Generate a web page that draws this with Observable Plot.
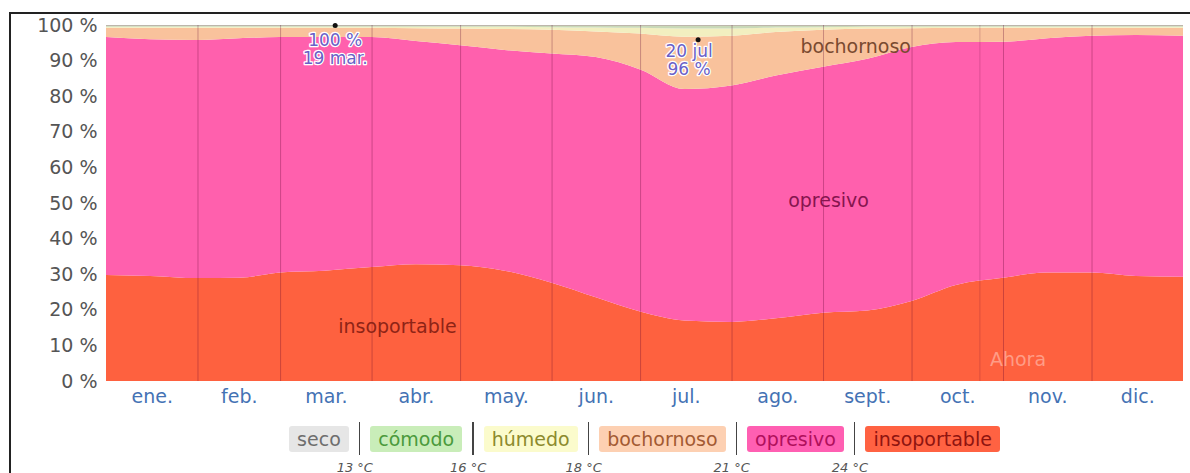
<!DOCTYPE html>
<html><head><meta charset="utf-8">
<script src="https://cdn.jsdelivr.net/npm/d3@7"></script>
<script src="https://cdn.jsdelivr.net/npm/@observablehq/plot@0.6"></script>
<style>
body{margin:0;width:1190px;height:473px;overflow:hidden;background:#fff;font-family:"DejaVu Sans",sans-serif;position:relative}
#frame{position:absolute;left:9px;top:12px;width:1200px;height:480px;border-left:2px solid #222;border-top:2px solid #222;pointer-events:none}
#chart{position:absolute;left:0;top:0}
#legend{position:absolute;left:106px;width:1077px;top:422px;display:flex;justify-content:center;align-items:center;font-size:19px}
.item{padding:1px 8px;border-radius:3px;line-height:24px}
.sep{position:relative;width:1.5px;height:33px;background:#444;margin:0 10px}
.sep span{position:absolute;top:38px;left:-24px;width:40px;text-align:center;font-size:13px;font-style:italic;color:#555;white-space:nowrap}
</style></head>
<body>
<div id="chart"></div>
<div id="frame"></div>
<div id="legend"></div>
<script>
// day-of-year sample points
const days = [0,15,31,45,59,74,90,105,120,135,151,166,181,196,212,227,243,258,273,288,304,319,334,349,365];
// percentage of time in each band (bottom to top)
const insoportable = [29.8,29.5,28.9,29.0,30.5,31.0,32.0,32.8,32.5,31.0,27.6,23.5,19.5,17.0,16.6,17.6,19.2,19.8,22.5,27.0,29.0,30.5,30.5,29.5,29.3];
const opresivo     = [66.8,66.5,66.9,67.3,66.1,65.6,64.6,62.7,61.8,62.0,64.4,67.5,68.0,65.0,66.4,68.2,69.1,70.7,71.3,68.2,66.3,65.8,66.5,67.7,67.7];
const bochornoso   = [2.6,3.2,3.4,2.9,2.6,2.6,2.6,3.6,4.7,5.9,6.7,7.2,10.1,14.7,14.0,12.2,10.4,8.5,5.3,4.0,3.9,2.9,2.2,2.0,2.2];
const humedo       = [0.3,0.3,0.3,0.3,0.3,0.3,0.3,0.4,0.5,0.6,0.7,1.1,1.6,2.3,2.0,1.3,0.7,0.5,0.4,0.3,0.3,0.3,0.3,0.3,0.3];
const comodo       = [0.2,0.2,0.2,0.2,0.2,0.2,0.2,0.2,0.2,0.2,0.3,0.4,0.5,0.7,0.7,0.4,0.3,0.2,0.2,0.2,0.2,0.2,0.2,0.2,0.2];
const seco         = [0.3,0.3,0.3,0.3,0.3,0.3,0.3,0.3,0.3,0.3,0.3,0.3,0.3,0.3,0.3,0.3,0.3,0.3,0.3,0.3,0.3,0.3,0.3,0.3,0.3];

const bandNames  = ["insoportable","opresivo","bochornoso","húmedo","cómodo","seco"];
const bandValues = [insoportable, opresivo, bochornoso, humedo, comodo, seco];
const bandColors = ["#fe613f","#ff60ad","#f9c29c","#f2efc0","#c9d9b8","#bdb6ab"];

const months = ["ene.","feb.","mar.","abr.","may.","jun.","jul.","ago.","sept.","oct.","nov.","dic."];
const monthStarts = [0,31,59,90,120,151,181,212,243,273,304,334,365];
const yTicks = [0,10,20,30,40,50,60,70,80,90,100];

const areaLabels = [
  {day: 98.6, pct: 15.2, label: "insoportable", color: "#8e2416"},
  {day: 244.7, pct: 50.8, label: "opresivo", color: "#86154f"},
  {day: 253.9, pct: 94.1, label: "bochornoso", color: "#7a4a30"}
];
const peakMar = {day: 77.5, pct: 100, l1: "100 %", l2: "19 mar."};
const peakJul = {day: 200.5, pct: 96, l1: "20 jul", l2: "96 %"};
const nowDay = 296;

const legendNames = ["seco","cómodo","húmedo","bochornoso","opresivo","insoportable"];
const legendBg    = ["#e6e6e6","#c9edb9","#fbfbcc","#fdd0b2","#ff5fb2","#ff6242"];
const legendFg    = ["#6e6e6e","#4b9a3c","#8c8a2c","#a35a32","#b0105c","#8e1410"];
const legendTemps = ["13 °C","16 °C","18 °C","21 °C","24 °C"];

const rows = [];
bandNames.forEach((b, k) => days.forEach((d, i) => rows.push({day: d, band: b, value: bandValues[k][i]})));
const monthMid = months.map((m, i) => (monthStarts[i] + monthStarts[i + 1]) / 2);

const annot = (p, dx, dy1, dy2) => [
  Plot.text([p], {x: "day", y: "pct", text: "l1", dx, dy: dy1, fill: "#6a5fc8", stroke: "white", strokeWidth: 2.5, fontSize: 17}),
  Plot.text([p], {x: "day", y: "pct", text: "l2", dx, dy: dy2, fill: "#6a5fc8", stroke: "white", strokeWidth: 2.5, fontSize: 17})
];

const plot = Plot.plot({
  width: 1190, height: 415,
  marginLeft: 106, marginRight: 7, marginTop: 25, marginBottom: 34,
  style: {fontFamily: "DejaVu Sans", fontSize: "19px", background: "transparent"},
  x: {domain: [0, 365], axis: null, label: null},
  y: {domain: [0, 100], axis: null, label: null},
  color: {domain: bandNames, range: bandColors},
  marks: [
    Plot.areaY(rows, {x: "day", y: "value", fill: "band", curve: "monotone-x"}),
    Plot.ruleX(monthStarts.slice(1, -1), {y1: 0, y2: 100, stroke: "#5a0030", strokeOpacity: 0.3, strokeWidth: 1}),
    Plot.ruleX([nowDay], {y1: 0, y2: 100, stroke: "#5a0030", strokeOpacity: 0.2, strokeWidth: 1}),
    Plot.text([nowDay], {x: d => d, y: () => 6, text: () => "Ahora", textAnchor: "start", dx: 10, fill: "#ff9c86", fontSize: 19}),
    Plot.axisY(yTicks, {tickSize: 0, tickPadding: 9, tickFormat: d => d + " %", color: "#555", fontSize: 19, label: null}),
    Plot.axisX(monthMid, {tickSize: 0, tickPadding: 8, tickFormat: d => months[monthMid.indexOf(d)], color: "#4472b4", fontSize: 19, label: null}),
    Plot.text(areaLabels, {x: "day", y: "pct", text: "label", fill: "color", fontSize: 19}),
    Plot.dot([peakMar, peakJul], {x: "day", y: "pct", r: 2.5, fill: "#111"}),
    ...annot(peakMar, 0, 15, 33),
    ...annot(peakJul, -9, 12, 30)
  ]
});
document.getElementById("chart").appendChild(plot);

const leg = document.getElementById("legend");
legendNames.forEach((n, i) => {
  if (i > 0) {
    const s = document.createElement("div");
    s.className = "sep";
    const t = document.createElement("span");
    t.textContent = legendTemps[i - 1];
    s.appendChild(t);
    leg.appendChild(s);
  }
  const it = document.createElement("div");
  it.className = "item";
  it.style.background = legendBg[i];
  it.style.color = legendFg[i];
  it.textContent = n;
  leg.appendChild(it);
});
</script>
</body></html>
